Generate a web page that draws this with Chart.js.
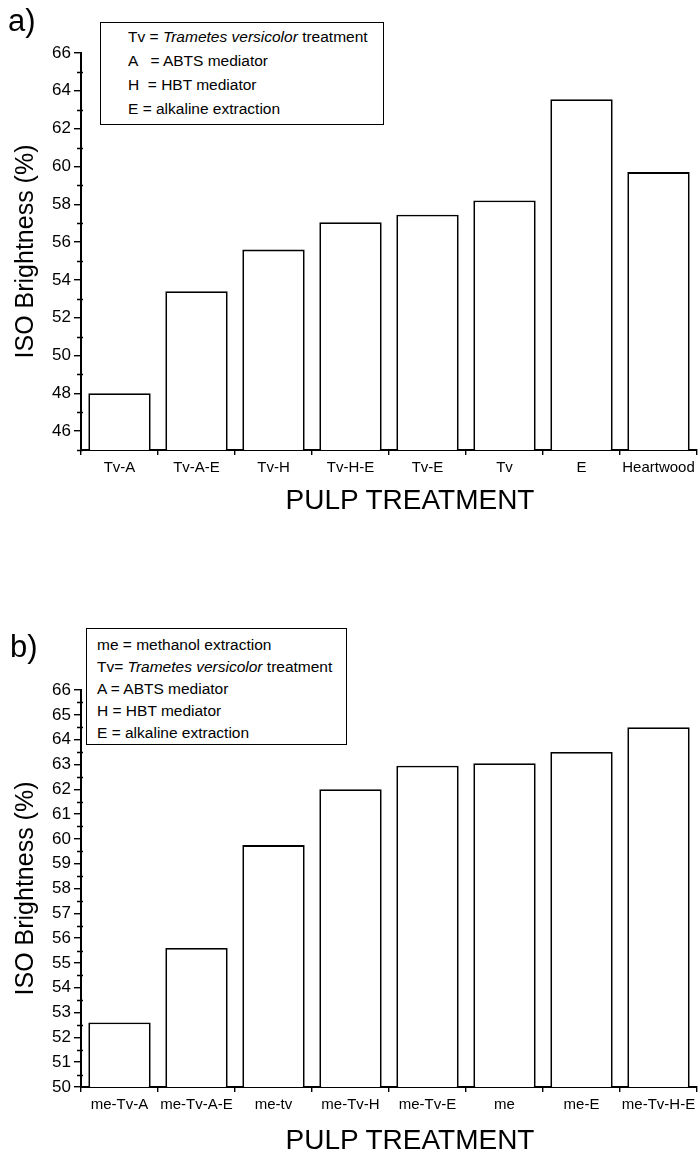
<!DOCTYPE html>
<html>
<head>
<meta charset="utf-8">
<script src="https://cdn.jsdelivr.net/npm/chart.js@4.4.0/dist/chart.umd.min.js"></script>
<style>
  body { margin: 0; background: #fff; font-family: "Liberation Sans", Arial, sans-serif; color: #000; }
  #wrap { position: relative; width: 700px; height: 1160px; }
  canvas { position: absolute; left: 0; }
  .panel { position: absolute; font-size: 31px; line-height: 34px; }
  .key { position: absolute; border: 1.5px solid #000; background: #fff; font-size: 15.5px; box-sizing: border-box; white-space: nowrap; }
  .xtitle { position: absolute; left: 210px; width: 400px; text-align: center; font-size: 28px; line-height: 32px; }
</style>
</head>
<body>
<div id="wrap">
  <canvas id="chartA" width="700" height="580" style="top:0"></canvas>
  <canvas id="chartB" width="700" height="580" style="top:580px"></canvas>

  <div class="panel" style="left:8px;top:4px">a)</div>
  <div class="key" style="left:100px;top:22px;width:284px;height:103px;padding:2px 0 0 27px;line-height:24px">
    Tv = <i>Trametes versicolor</i> treatment<br>
    A &nbsp;&nbsp;= ABTS mediator<br>
    H &nbsp;= HBT mediator<br>
    E = alkaline extraction
  </div>
  <div class="xtitle" style="top:484px">PULP TREATMENT</div>

  <div class="panel" style="left:10px;top:630px">b)</div>
  <div class="key" style="left:86px;top:628px;width:261px;height:117px;padding:5px 0 0 10px;line-height:22px">
    me = methanol extraction<br>
    Tv= <i>Trametes versicolor</i> treatment<br>
    A = ABTS mediator<br>
    H = HBT mediator<br>
    E = alkaline extraction
  </div>
  <div class="xtitle" style="top:1124px">PULP TREATMENT</div>
</div>

<script>
// panel a
var labelsA = ['Tv-A', 'Tv-A-E', 'Tv-H', 'Tv-H-E', 'Tv-E', 'Tv', 'E', 'Heartwood'];
var brightA = [48.0, 53.4, 55.6, 57.05, 57.45, 58.2, 63.55, 59.7];
var ticksA = [46, 48, 50, 52, 54, 56, 58, 60, 62, 64, 66];
var minorA = [45, 47, 49, 51, 53, 55, 57, 59, 61, 63, 65];

// panel b
var labelsB = ['me-Tv-A', 'me-Tv-A-E', 'me-tv', 'me-Tv-H', 'me-Tv-E', 'me', 'me-E', 'me-Tv-H-E'];
var brightB = [52.6, 55.6, 59.75, 62.0, 62.95, 63.05, 63.5, 64.5];
var ticksB = [50, 51, 52, 53, 54, 55, 56, 57, 58, 59, 60, 61, 62, 63, 64, 65, 66];
var minorB = [50.5, 51.5, 52.5, 53.5, 54.5, 55.5, 56.5, 57.5, 58.5, 59.5, 60.5, 61.5, 62.5, 63.5, 64.5, 65.5];

Chart.defaults.font.family = '"Liberation Sans", Arial, sans-serif';
Chart.defaults.color = '#000';
Chart.defaults.animation = false;

// small ticks between the labelled ones
var minorTicks = {
  id: 'minorTicks',
  afterDraw: function (chart) {
    var y = chart.scales.y;
    var ctx = chart.ctx;
    var list = chart.options.plugins.minorTicks.values;
    ctx.save();
    ctx.strokeStyle = '#000';
    ctx.lineWidth = 1.4;
    ctx.beginPath();
    list.forEach(function (v) {
      var py = Math.round(y.getPixelForValue(v)) + 0.5;
      ctx.moveTo(y.right - 4, py);
      ctx.lineTo(y.right + 2, py);
    });
    ctx.stroke();
    ctx.restore();
  }
};

function makeChart(id, labels, values, yMin, yMax, majors, minors, padTop, padBottom) {
  return new Chart(document.getElementById(id), {
    type: 'bar',
    data: {
      labels: labels,
      datasets: [{
        data: values,
        backgroundColor: '#fff',
        borderColor: '#000',
        borderWidth: 1.8,
        barPercentage: 0.81,
        categoryPercentage: 1.0
      }]
    },
    options: {
      responsive: false,
      layout: { padding: { top: padTop, right: 3, bottom: padBottom, left: 0 } },
      plugins: {
        legend: { display: false },
        tooltip: { enabled: false },
        minorTicks: { values: minors }
      },
      scales: {
        x: {
          grid: { drawOnChartArea: false, color: '#000', tickLength: 5, lineWidth: 1.4 },
          border: { color: '#000', width: 2 },
          ticks: { font: { size: 15 }, padding: 4, maxRotation: 0, autoSkip: false },
          afterFit: function (s) { s.height = 70; }
        },
        y: {
          min: yMin,
          max: yMax,
          afterBuildTicks: function (s) { s.ticks = majors.map(function (v) { return { value: v }; }); },
          grid: { drawOnChartArea: false, color: '#000', tickLength: 7, lineWidth: 1.4 },
          border: { color: '#000', width: 2 },
          ticks: { font: { size: 17 }, padding: 3 },
          title: { display: true, text: 'ISO Brightness (%)', font: { size: 25 }, padding: { top: 11, bottom: 0 } },
          afterFit: function (s) { s.width = 81; }
        }
      }
    },
    plugins: [minorTicks]
  });
}

makeChart('chartA', labelsA, brightA, 45, 66, ticksA, minorA, 53, 60);
makeChart('chartB', labelsB, brightB, 50, 66, ticksB, minorB, 110, 3);
</script>
</body>
</html>
